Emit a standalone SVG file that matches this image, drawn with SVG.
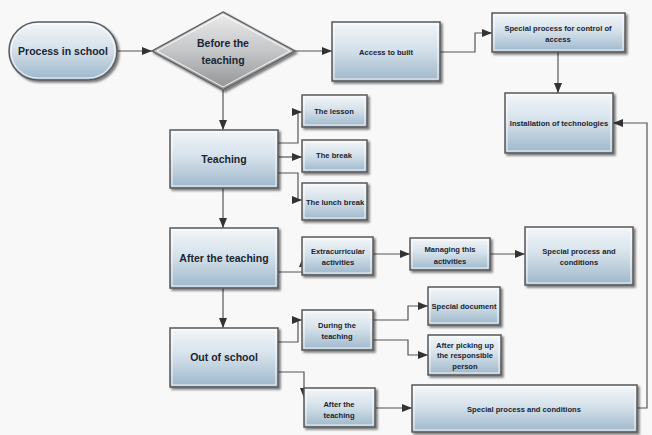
<svg xmlns="http://www.w3.org/2000/svg" width="652" height="435" viewBox="0 0 652 435">
  <defs>
    <linearGradient id="boxFill" x1="0" y1="0" x2="0" y2="1">
      <stop offset="0" stop-color="#f2f6f9"/>
      <stop offset="0.45" stop-color="#d6e2eb"/>
      <stop offset="1" stop-color="#9db7cb"/>
    </linearGradient>
    <linearGradient id="diamondFill" x1="0" y1="0" x2="0" y2="1">
      <stop offset="0" stop-color="#ececec"/>
      <stop offset="0.5" stop-color="#c4c6c8"/>
      <stop offset="1" stop-color="#909294"/>
    </linearGradient>
    <filter id="shadow" x="-10%" y="-10%" width="125%" height="130%">
      <feDropShadow dx="2" dy="2" stdDeviation="1.2" flood-color="#000" flood-opacity="0.5"/>
    </filter>
    <marker id="arrow" markerUnits="userSpaceOnUse" markerWidth="11" markerHeight="9" refX="10" refY="4" orient="auto">
      <path d="M0,0 L10,4 L0,8 z" fill="#333333"/>
    </marker>
  </defs>
  <style>
    .box { fill: url(#boxFill); stroke: #5a5a5a; stroke-width: 1.5; filter: url(#shadow); }
    .inner { fill: none; stroke: #ffffff; stroke-opacity: 0.85; stroke-width: 1; }
    .dia { fill: url(#diamondFill); stroke: #666666; stroke-width: 1.5; filter: url(#shadow); }
    .big { font-family: "Liberation Sans", Arial, sans-serif; font-weight: bold; font-size: 10.5px; fill: #1b2431; text-anchor: middle; }
    .small { font-family: "Liberation Sans", Arial, sans-serif; font-weight: bold; font-size: 7.6px; fill: #1b2431; text-anchor: middle; }
    .conn { fill: none; stroke: #555555; stroke-width: 1.2; marker-end: url(#arrow); }
  </style>

  <rect width="652" height="435" fill="#f8f8f8"/>

  <!-- connectors -->
  <g id="connectors">
    <path class="conn" d="M117,51 H152"/>
    <path class="conn" d="M295,51 H332"/>
    <path class="conn" d="M440,52 H475 V33 H492"/>
    <path class="conn" d="M558,52 V93"/>
    <path class="conn" d="M223,90 V130"/>
    <path class="conn" d="M278,143 H298 V112 H302"/>
    <path class="conn" d="M278,157 H302"/>
    <path class="conn" d="M278,173 H298 V200 H302"/>
    <path class="conn" d="M223,188 V228"/>
    <path class="conn" d="M278,272 H303 V257"/>
    <path class="conn" d="M373,254 H410"/>
    <path class="conn" d="M490,254 H525"/>
    <path class="conn" d="M223,288 V328"/>
    <path class="conn" d="M278,342 H298 V320 H302"/>
    <path class="conn" d="M373,320 H408 V306 H428"/>
    <path class="conn" d="M373,340 H408 V355 H428"/>
    <path class="conn" d="M278,372 H304 V398"/>
    <path class="conn" d="M375,408 H412"/>
    <path class="conn" d="M637,408 H647 V123 H613"/>
  </g>

  <!-- start terminal -->
  <g id="process-in-school">
    <rect class="box" x="9" y="22" width="108" height="58" rx="29"/>
    <rect class="inner" x="11" y="24" width="104" height="54" rx="27"/>
    <text class="big" x="63" y="55">Process in school</text>
  </g>

  <!-- decision -->
  <g id="before-teaching">
    <polygon class="dia" points="223,12 295,51 223,90 152,51"/>
    <polygon class="inner" points="223,15 290,51 223,87 157,51"/>
    <text class="big" x="223" y="47">Before the</text>
    <text class="big" x="223" y="64">teaching</text>
  </g>

  <g id="access-to-built">
    <rect class="box" x="332" y="22" width="108" height="59"/>
    <rect class="inner" x="334" y="24" width="104" height="55"/>
    <text class="small" x="386" y="55">Access to built</text>
  </g>

  <g id="special-control">
    <rect class="box" x="492" y="13" width="133" height="39"/>
    <rect class="inner" x="494" y="15" width="129" height="35"/>
    <text class="small" x="558" y="31">Special process for control of</text>
    <text class="small" x="558" y="42">access</text>
  </g>

  <g id="installation">
    <rect class="box" x="505" y="93" width="108" height="60"/>
    <rect class="inner" x="507" y="95" width="104" height="56"/>
    <text class="small" x="559" y="126">Installation of technologies</text>
  </g>

  <g id="teaching">
    <rect class="box" x="170" y="130" width="108" height="58"/>
    <rect class="inner" x="172" y="132" width="104" height="54"/>
    <text class="big" x="224" y="163">Teaching</text>
  </g>

  <g id="the-lesson">
    <rect class="box" x="302" y="95" width="65" height="32"/>
    <rect class="inner" x="304" y="97" width="61" height="28"/>
    <text class="small" x="334" y="114">The lesson</text>
  </g>

  <g id="the-break">
    <rect class="box" x="302" y="140" width="65" height="32"/>
    <rect class="inner" x="304" y="142" width="61" height="28"/>
    <text class="small" x="334" y="158">The break</text>
  </g>

  <g id="the-lunch-break">
    <rect class="box" x="302" y="183" width="65" height="37"/>
    <rect class="inner" x="304" y="185" width="61" height="33"/>
    <text class="small" x="335" y="205">The lunch break</text>
  </g>

  <g id="after-teaching">
    <rect class="box" x="170" y="228" width="108" height="60"/>
    <rect class="inner" x="172" y="230" width="104" height="56"/>
    <text class="big" x="224" y="262">After the teaching</text>
  </g>

  <g id="extracurricular">
    <rect class="box" x="302" y="237" width="71" height="38"/>
    <rect class="inner" x="304" y="239" width="67" height="34"/>
    <text class="small" x="338" y="254">Extracurricular</text>
    <text class="small" x="338" y="265">activities</text>
  </g>

  <g id="managing">
    <rect class="box" x="410" y="238" width="80" height="32"/>
    <rect class="inner" x="412" y="240" width="76" height="28"/>
    <text class="small" x="450" y="252">Managing this</text>
    <text class="small" x="450" y="264">activities</text>
  </g>

  <g id="special-conditions-top">
    <rect class="box" x="525" y="227" width="108" height="58"/>
    <rect class="inner" x="527" y="229" width="104" height="54"/>
    <text class="small" x="579" y="254">Special process and</text>
    <text class="small" x="579" y="265">conditions</text>
  </g>

  <g id="out-of-school">
    <rect class="box" x="170" y="328" width="108" height="59"/>
    <rect class="inner" x="172" y="330" width="104" height="55"/>
    <text class="big" x="224" y="361">Out of school</text>
  </g>

  <g id="during-teaching">
    <rect class="box" x="302" y="310" width="71" height="40"/>
    <rect class="inner" x="304" y="312" width="67" height="36"/>
    <text class="small" x="337" y="328">During the</text>
    <text class="small" x="337" y="339">teaching</text>
  </g>

  <g id="special-document">
    <rect class="box" x="428" y="287" width="72" height="38"/>
    <rect class="inner" x="430" y="289" width="68" height="34"/>
    <text class="small" x="464" y="309">Special document</text>
  </g>

  <g id="after-picking-up">
    <rect class="box" x="428" y="335" width="73" height="40"/>
    <rect class="inner" x="430" y="337" width="69" height="36"/>
    <text class="small" x="465" y="348">After picking up</text>
    <text class="small" x="465" y="358">the responsible</text>
    <text class="small" x="465" y="369">person</text>
  </g>

  <g id="after-teaching-out">
    <rect class="box" x="304" y="388" width="71" height="39"/>
    <rect class="inner" x="306" y="390" width="67" height="35"/>
    <text class="small" x="339" y="407">After the</text>
    <text class="small" x="339" y="418">teaching</text>
  </g>

  <g id="special-conditions-bottom">
    <rect class="box" x="412" y="385" width="225" height="47"/>
    <rect class="inner" x="414" y="387" width="221" height="43"/>
    <text class="small" x="524" y="412">Special process and conditions</text>
  </g>
</svg>
